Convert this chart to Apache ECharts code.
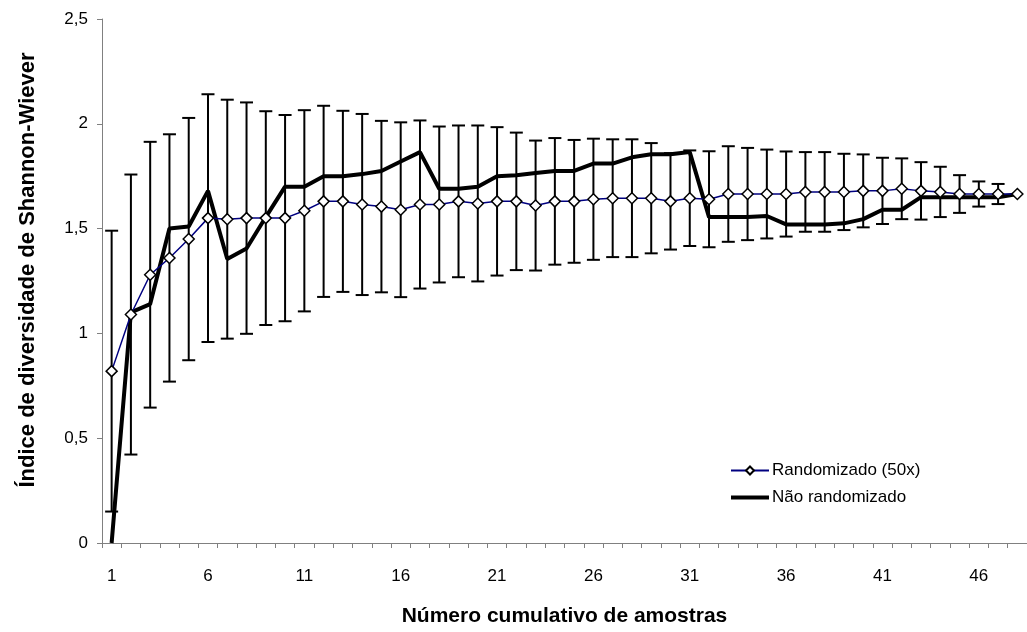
<!DOCTYPE html>
<html>
<head>
<meta charset="utf-8">
<script src="https://cdn.jsdelivr.net/npm/echarts@6/dist/echarts.min.js"></script>
<style>
  html, body { margin: 0; padding: 0; background: #fff; }
  #chart { width: 1027px; height: 632px; }
</style>
</head>
<body>
<div id="chart"></div>
<script>
// Number of cumulative samples (x categories)
const samples = Array.from({ length: 48 }, (_, i) => String(i + 1));

// Randomized curve (mean of 50 permutations)
const randomMean = [0.82, 1.09, 1.28, 1.36, 1.45, 1.55, 1.545, 1.55, 1.55, 1.55,
  1.585, 1.63, 1.63, 1.615, 1.605, 1.59, 1.615, 1.615, 1.63, 1.62,
  1.63, 1.63, 1.61, 1.63, 1.63, 1.64, 1.645, 1.645, 1.645, 1.63,
  1.645, 1.64, 1.665, 1.665, 1.665, 1.665, 1.675, 1.675, 1.675, 1.68,
  1.68, 1.69, 1.68, 1.675, 1.665, 1.665, 1.665, 1.665];

// Standard deviation of the randomized curve (error bars)
const randomSd = [0.67, 0.668, 0.634, 0.59, 0.578, 0.591, 0.57, 0.552, 0.51, 0.492,
  0.48, 0.456, 0.432, 0.432, 0.409, 0.417, 0.401, 0.372, 0.362, 0.372,
  0.354, 0.328, 0.31, 0.302, 0.293, 0.289, 0.281, 0.281, 0.263, 0.23,
  0.228, 0.229, 0.228, 0.22, 0.212, 0.203, 0.19, 0.19, 0.182, 0.174,
  0.158, 0.145, 0.137, 0.12, 0.09, 0.06, 0.048, 0];

// Samples in their original order
const ordered = [0, 1.10, 1.14, 1.50, 1.51, 1.68, 1.355, 1.405, 1.555, 1.70,
  1.70, 1.75, 1.75, 1.76, 1.775, 1.82, 1.865, 1.69, 1.69, 1.70,
  1.75, 1.755, 1.765, 1.775, 1.775, 1.81, 1.81, 1.84, 1.855, 1.855,
  1.865, 1.555, 1.555, 1.555, 1.56, 1.52, 1.52, 1.52, 1.525, 1.545,
  1.59, 1.59, 1.65, 1.65, 1.65, 1.65, 1.65, 1.665];

const yTicks = [0, 0.5, 1, 1.5, 2, 2.5];

const FONT = '"Liberation Sans", Arial, sans-serif';

const errorData = randomMean.map((m, i) => [i, m - randomSd[i], m + randomSd[i]]);

const chart = echarts.init(document.getElementById('chart'), null, { renderer: 'canvas' });

chart.setOption({
  animation: false,
  backgroundColor: '#ffffff',
  textStyle: { fontFamily: FONT },
  grid: { left: 102, right: 0, top: 19, bottom: 89, containLabel: false },
  graphic: [
    {
      type: 'text',
      x: 28, y: 270,
      rotation: Math.PI / 2,
      style: {
        text: 'Índice de diversidade de Shannon-Wiever',
        fontFamily: FONT, fontSize: 22, fontWeight: 'bold', fill: '#000',
        align: 'center', verticalAlign: 'middle'
      }
    }
  ],
  legend: {
    orient: 'vertical',
    left: 724,
    top: 457,
    itemWidth: 38,
    itemHeight: 10,
    itemGap: 10,
    textStyle: { fontFamily: FONT, fontSize: 17, color: '#000', padding: [0, 0, 0, -2] },
    data: [
      { name: 'Randomizado (50x)' },
      { name: 'Não randomizado', itemStyle: { opacity: 0 }, lineStyle: { width: 4 } }
    ]
  },
  xAxis: {
    type: 'category',
    data: samples,
    boundaryGap: true,
    name: 'Número cumulativo de amostras',
    nameLocation: 'middle',
    nameGap: 63,
    nameTextStyle: { fontFamily: FONT, fontSize: 21, fontWeight: 'bold', color: '#000' },
    axisLine: { lineStyle: { color: '#808080', width: 1 } },
    axisTick: { show: true, interval: 0, length: 5, lineStyle: { color: '#808080' } },
    axisLabel: { interval: 4, margin: 25, fontFamily: FONT, fontSize: 17, color: '#000' },
    splitLine: { show: false }
  },
  yAxis: {
    type: 'value',
    min: yTicks[0],
    max: yTicks[yTicks.length - 1],
    interval: 0.5,
    axisLine: { show: true, lineStyle: { color: '#808080', width: 1 } },
    axisTick: { show: true, length: 5, lineStyle: { color: '#808080' } },
    axisLabel: {
      margin: 14,
      fontFamily: FONT, fontSize: 17, color: '#000',
      formatter: v => String(v).replace('.', ',')
    },
    splitLine: { show: false }
  },
  series: [
    {
      name: 'errorbars',
      type: 'custom',
      z: 1,
      data: errorData,
      renderItem: (params, api) => {
        const i = api.value(0);
        const lo = api.coord([i, api.value(1)]);
        const hi = api.coord([i, api.value(2)]);
        if (Math.abs(hi[1] - lo[1]) < 1) return null;
        const half = 6.5;
        const style = { stroke: '#000', lineWidth: 2 };
        return {
          type: 'group',
          children: [
            { type: 'line', shape: { x1: lo[0], y1: lo[1], x2: hi[0], y2: hi[1] }, style },
            { type: 'line', shape: { x1: hi[0] - half, y1: hi[1], x2: hi[0] + half, y2: hi[1] }, style },
            { type: 'line', shape: { x1: lo[0] - half, y1: lo[1], x2: lo[0] + half, y2: lo[1] }, style }
          ]
        };
      }
    },
    {
      name: 'Não randomizado',
      type: 'line',
      z: 2,
      data: ordered,
      symbol: 'none',
      lineStyle: { color: '#000', width: 4 },
      itemStyle: { color: '#000' }
    },
    {
      name: 'Randomizado (50x)',
      type: 'line',
      z: 3,
      data: randomMean,
      symbol: 'diamond',
      symbolSize: 11,
      lineStyle: { color: '#000080', width: 1.5 },
      itemStyle: { color: '#ffffff', borderColor: '#000', borderWidth: 1.5 }
    }
  ]
});
</script>
</body>
</html>
